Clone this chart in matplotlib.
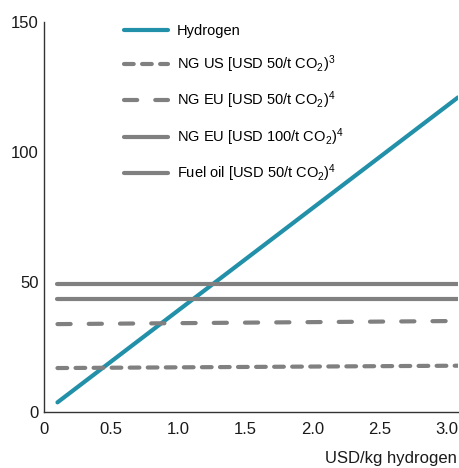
import matplotlib
matplotlib.use("Agg")
import matplotlib.pyplot as plt
import numpy as np

plt.rcParams['font.family'] = ['Liberation Sans', 'DejaVu Sans']
plt.rcParams['mathtext.fontset'] = 'custom'
plt.rcParams['mathtext.rm'] = 'Liberation Sans'
plt.rcParams['mathtext.it'] = 'Liberation Sans'
plt.rcParams['mathtext.bf'] = 'Liberation Sans'
plt.rcParams['lines.scale_dashes'] = False

# Data
x_range = [0.1, 3.08]
hydrogen = [3.7, 121.0]
ng_us = [16.9, 17.8]
ng_eu_50 = [33.8, 35.0]
ng_eu_100 = [43.5, 43.5]
fuel_oil = [49.2, 49.2]

labels = ["Hydrogen",
          r"NG US [USD 50/t CO$_2$)$^3$",
          r"NG EU [USD 50/t CO$_2$)$^4$",
          r"NG EU [USD 100/t CO$_2$)$^4$",
          r"Fuel oil [USD 50/t CO$_2$)$^4$"]
xticks = [0, 0.5, 1.0, 1.5, 2.0, 2.5, 3.0]
xticklabels = ["0", "0.5", "1.0", "1.5", "2.0", "2.5", "3.0"]
yticks = [0, 50, 100, 150]

teal = "#2190a8"
grey = "#808080"
lw = 3.0

fig = plt.figure(figsize=(4.6, 4.68), dpi=100)
ax = fig.add_axes([0.0957, 0.1197, 0.90, 0.8333])

h1, = ax.plot(x_range, hydrogen, color=teal, lw=lw, solid_capstyle='round')
h2, = ax.plot(x_range, ng_us, color=grey, lw=lw, dash_capstyle='round',
              dashes=(7.0, 6.0))
h3, = ax.plot(x_range, ng_eu_50, color=grey, lw=lw, dash_capstyle='round',
              dashes=(9.5, 13.0))
h4, = ax.plot(x_range, ng_eu_100, color=grey, lw=lw, solid_capstyle='round')
h5, = ax.plot(x_range, fuel_oil, color=grey, lw=lw, solid_capstyle='round')

ax.set_xlim(0, 3.08)
ax.set_ylim(0, 150)
ax.set_xticks(xticks)
ax.set_xticklabels(xticklabels)
ax.set_yticks(yticks)
ax.tick_params(axis='both', length=0, labelsize=12, colors='#1a1a1a')
ax.tick_params(axis='x', pad=7.5)
ax.tick_params(axis='y', pad=4)
for s in ['top', 'right']:
    ax.spines[s].set_visible(False)
for s in ['left', 'bottom']:
    ax.spines[s].set_color('#333333')
    ax.spines[s].set_linewidth(1.0)

leg = ax.legend([h1, h2, h3, h4, h5], labels, loc='upper left',
                bbox_to_anchor=(0.175, 1.013), frameon=False, fontsize=10.5,
                handlelength=3.0, handletextpad=0.62, labelspacing=1.02,
                borderpad=0.0)

fig.text(0.993, 0.005, "USD/kg hydrogen", ha='right', va='bottom',
         fontsize=12, color='#1a1a1a')

fig.savefig("out.png", dpi=100)
